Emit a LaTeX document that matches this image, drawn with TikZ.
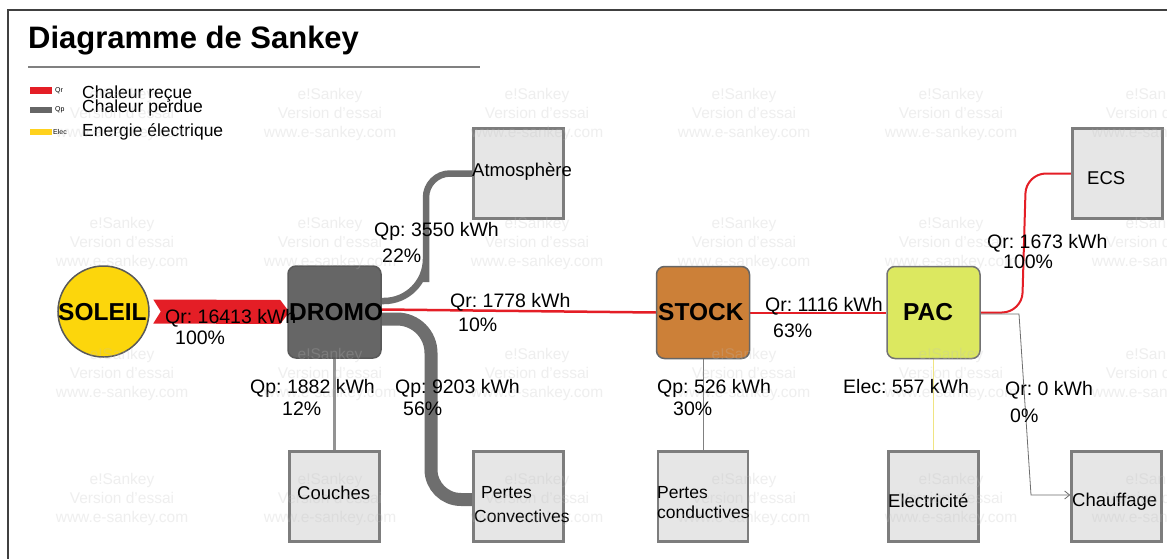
\documentclass[tikz,border=0pt]{standalone}
\usepackage{fontspec}
\setmainfont{Liberation Sans}
\usetikzlibrary{arrows.meta,calc}
\frenchspacing
\definecolor{qrred}{RGB}{228,30,38}
\definecolor{qpgray}{RGB}{110,110,110}
\definecolor{soleilc}{RGB}{252,214,12}
\definecolor{dromoc}{RGB}{102,102,102}
\definecolor{stockc}{RGB}{204,128,56}
\definecolor{pacc}{RGB}{220,232,96}
\definecolor{boxfill}{RGB}{230,230,230}
\definecolor{boxline}{RGB}{125,125,125}
\definecolor{elecc}{RGB}{240,228,130}
\definecolor{legyellow}{RGB}{255,210,30}
\pgfdeclarelayer{paper}
\pgfdeclarelayer{flows}
\pgfsetlayers{paper,flows,main}
\tikzset{
  lbox/.style={draw=boxline, fill=boxfill, line width=2.5pt, minimum width=90pt, minimum height=90pt, inner sep=0pt},
  cbox/.style={line width=1.5pt, rounded corners=8pt, minimum width=93pt, minimum height=92pt, inner sep=0pt},
  big/.style={anchor=base west, inner sep=0pt, font=\bfseries\fontsize{24.5}{28}\selectfont},
  lab/.style={anchor=base west, inner sep=0pt, font=\fontsize{19.5}{22}\selectfont},
  blab/.style={anchor=base west, inner sep=0pt, font=\fontsize{18.5}{22}\selectfont},
  slab/.style={anchor=base west, inner sep=0pt, font=\fontsize{17.5}{20}\selectfont},
  leg/.style={anchor=base west, inner sep=0pt, font=\fontsize{17.5}{20}\selectfont},
  tiny/.style={anchor=west, inner sep=0pt, font=\fontsize{7}{8}\selectfont},
  wm/.style={align=center, inner sep=0pt, text=gray!50, text opacity=0.25, font=\fontsize{15.5}{19}\selectfont},
  qrflow/.style={draw=qrred},
  qpflow/.style={draw=qpgray}
}
\begin{document}
\begin{tikzpicture}[x=1pt,y=-1pt]
\useasboundingbox (0,0) rectangle (1167,559);
\begin{pgfonlayer}{paper}
\fill[white] (0,0) rectangle (1167,559);
\end{pgfonlayer}
% frame
\draw[black!75, line width=1.5pt] (8,559) -- (8,10) -- (1167,10);
% title
\node[anchor=base west, inner sep=0pt, font=\bfseries\fontsize{31}{36}\selectfont] (title) at (28,49) {Diagramme de Sankey};
\draw[gray, line width=1.2pt] (28,67) -- (480,67);
% legend
\fill[qrred] (30,87) rectangle (52,94);
\node[tiny] (lqr) at (55,91) {Qr};
\node[leg] (lt1) at (82,99) {Chaleur reçue};
\fill[dromoc] (30,107) rectangle (52,113);
\node[tiny] (lqp) at (55,110) {Qp};
\node[leg] (lt2) at (82,113) {Chaleur perdue};
\fill[legyellow] (30,129) rectangle (52,135);
\node[tiny] (lel) at (53,132) {Elec};
\node[leg] (lt3) at (82,137) {Energie électrique};

% main nodes
\node[circle, draw=black!65, line width=1.5pt, fill=soleilc, minimum size=91pt, inner sep=0pt] (soleil) at (103.5,311.5) {};
\node[cbox, fill=dromoc, draw=black!65] (dromo) at (334.5,312) {};
\node[cbox, fill=stockc, draw=black!60] (stock) at (703,312.5) {};
\node[cbox, fill=pacc, draw=black!55] (pac) at (933.5,312.5) {};
\node[lbox] (atmo) at (518.5,173.5) {};
\node[lbox] (ecs) at (1117.5,173.5) {};
\node[lbox] (couches) at (334.5,496.5) {};
\node[lbox] (pconv) at (518.5,496.5) {};
\node[lbox] (pcond) at (703,496.5) {};
\node[lbox] (elec) at (933.5,496.5) {};
\node[lbox] (chauff) at (1116.5,496.5) {};

% flows
\begin{pgfonlayer}{flows}
\fill[qrred] ($(soleil.east)+(3.5,-12)$) -- ($(dromo.west)+(-7,-12)$) -- ($(dromo.west)+(2,0)$) -- ($(dromo.west)+(-7,12)$) -- ($(soleil.east)+(3.5,12)$) -- ($(soleil.east)+(11,0)$) -- cycle;
\draw[qpflow, line width=6.5pt] ([yshift=11pt]dromo.east) [rounded corners=42pt] -| (426,240) [rounded corners=24pt] |- (atmo.west);
\draw[qpflow, line width=13pt] ([yshift=-7pt]dromo.east) [rounded corners=34pt] -| (431,420) [rounded corners=30pt] |- ([yshift=-3pt]pconv.west);
\draw[draw=gray!85, line width=3pt] (dromo.south) -- (couches.north);
\draw[qrflow, line width=2.5pt] ([yshift=2.5pt]dromo.east) -- (stock.west);
\draw[draw=gray, line width=0.8pt] (stock.south) -- (pcond.north);
\draw[qrflow, line width=2pt] (stock.east) -- (pac.west);
\draw[draw=elecc, line width=1pt] (pac.south) -- (elec.north);
\draw[qrflow, line width=2pt, rounded corners=20pt] (pac.east) -- (1022,312.5) -- (1026,173.5) -- (ecs.west);
\draw[qpflow, line width=0.8pt, -{Straight Barb[length=5pt,width=8pt]}] ([yshift=-1.5pt]pac.east) -- (1019,314) -- (1031,495) -- ([yshift=1.5pt]chauff.west);
\end{pgfonlayer}

% node texts
\node[big] (tsoleil) at (58,320) {SOLEIL};
\node[big] (tdromo) at (289,320) {DROMO};
\node[big] (tstock) at (658,320) {STOCK};
\node[big] (tpac) at (903,320) {PAC};
\node[blab] (tatmo) at (472,176) {Atmosphère};
\node[blab] (tecs) at (1087,184) {ECS};
\node[blab] (tcouches) at (297,499) {Couches};
\node[slab] (tpconv1) at (481,498) {Pertes};
\node[slab] (tpconv2) at (474,522) {Convectives};
\node[slab] (tpcond1) at (657,498) {Pertes};
\node[slab] (tpcond2) at (657,518) {conductives};
\node[blab] (telec) at (888,507) {Electricité};
\node[blab] (tchauff) at (1072,506) {Chauffage};

% flow labels
\node[lab] (f1a) at (165,323) {Qr: 16413 kWh};
\node[lab] (f1b) at (175,344) {100\%};
\node[lab] (f2a) at (374,236) {Qp: 3550 kWh};
\node[lab] (f2b) at (382,262) {22\%};
\node[lab] (f3a) at (450,307) {Qr: 1778 kWh};
\node[lab] (f3b) at (458,331) {10\%};
\node[lab] (f4a) at (250,393) {Qp: 1882 kWh};
\node[lab] (f4b) at (282,415) {12\%};
\node[lab] (f5a) at (395,393) {Qp: 9203 kWh};
\node[lab] (f5b) at (403,415) {56\%};
\node[lab] (f6a) at (657,393) {Qp: 526 kWh};
\node[lab] (f6b) at (673,415) {30\%};
\node[lab] (f7a) at (765,311) {Qr: 1116 kWh};
\node[lab] (f7b) at (773,337) {63\%};
\node[lab] (f8a) at (843,393) {Elec: 557 kWh};
\node[lab] (f9a) at (1005,395) {Qr: 0 kWh};
\node[lab] (f9b) at (1010,422) {0\%};
\node[lab] (f10a) at (987,248) {Qr: 1673 kWh};
\node[lab] (f10b) at (1003,268) {100\%};

% watermarks
\foreach \cx [count=\i] in {122,330,537,744,951,1158}{
  \foreach \cy [count=\j] in {114,243,374,499}{
    \node[wm] (wm-\i-\j) at (\cx,\cy) {e!Sankey\\Version d'essai\\www.e-sankey.com};
  }
}
\end{tikzpicture}
\end{document}
